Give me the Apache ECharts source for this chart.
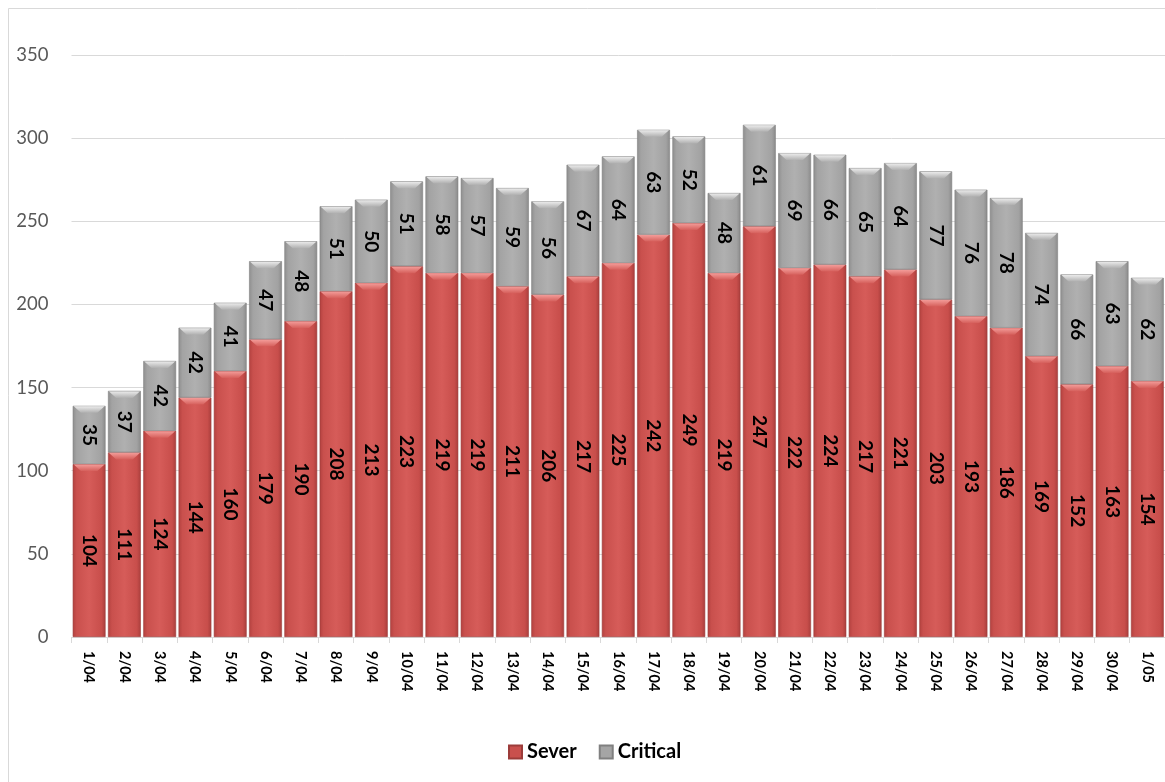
<!DOCTYPE html>
<html><head><meta charset="utf-8">
<script src="https://cdn.jsdelivr.net/npm/echarts@6/dist/echarts.min.js"></script>
<style>html,body{margin:0;padding:0;background:#fff;}#c{width:1165px;height:782px;}</style>
</head><body><div id="c"></div>
<script>
const categories = ['1/04','2/04','3/04','4/04','5/04','6/04','7/04','8/04','9/04','10/04','11/04','12/04','13/04','14/04','15/04','16/04','17/04','18/04','19/04','20/04','21/04','22/04','23/04','24/04','25/04','26/04','27/04','28/04','29/04','30/04','1/05'];
const sever = [104,111,124,144,160,179,190,208,213,223,219,219,211,206,217,225,242,249,219,247,222,224,217,221,203,193,186,169,152,163,154];
const critical = [35,37,42,42,41,47,48,51,50,51,58,57,59,56,67,64,63,52,48,61,69,66,65,64,77,76,78,74,66,63,62];
const yTicks = [0,50,100,150,200,250,300,350];

const FONT = 'Lato, "Liberation Sans", sans-serif';
const redGrad = new echarts.graphic.LinearGradient(0,0,1,0,[
  {offset:0,color:'#b2413f'},{offset:0.12,color:'#c9504d'},{offset:0.5,color:'#d65c59'},{offset:0.88,color:'#c84e4b'},{offset:1,color:'#a83e3c'}]);
const grayGrad = new echarts.graphic.LinearGradient(0,0,1,0,[
  {offset:0,color:'#8e8e8e'},{offset:0.12,color:'#a3a3a3'},{offset:0.5,color:'#b0b0b0'},{offset:0.88,color:'#a2a2a2'},{offset:1,color:'#8a8a8a'}]);
const redBevel = new echarts.graphic.LinearGradient(0,0,0,1,[{offset:0,color:'#f7a3a0'},{offset:1,color:'#d6605c'}]);
const grayBevel = new echarts.graphic.LinearGradient(0,0,0,1,[{offset:0,color:'#f2f2f2'},{offset:1,color:'#b0b0b0'}]);

const bevelData = categories.map((c,i)=>[i, sever[i], sever[i]+critical[i]]);
const GAP = 0.07;

function renderBevel(params, api){
  const i = api.value(0);
  const band = api.size([1,0])[0];
  const w = band*(1-GAP);
  const out = [];
  [[api.value(1), redBevel],[api.value(2), grayBevel]].forEach(([v,fill])=>{
    const p = api.coord([i, v]);
    const x0 = p[0]-w/2, x1 = p[0]+w/2, y = p[1];
    const inset = Math.min(9, w*0.25), h = 7;
    out.push({type:'polygon', shape:{points:[[x0+1,y+0.5],[x1-1,y+0.5],[x1-inset,y+h],[x0+inset,y+h]]},
      style:{fill:fill, opacity:0.9}});
  });
  return {type:'group', children:out};
}

const chart = echarts.init(document.getElementById('c'), null, {renderer:'canvas'});
const labelCfg = {show:true, position:'inside', rotate:-90, color:'#000', fontFamily:FONT, fontWeight:'bold', fontSize:19};
chart.setOption({
  animation:false,
  backgroundColor:'#fff',
  graphic:[{type:'rect', shape:{x:8.5,y:8.5,width:1200,height:800}, style:{fill:'none', stroke:'#d9d9d9', lineWidth:1}, z:-10}],
  grid:{left:71.5, right:-7, top:55, bottom:145, containLabel:false},
  legend:{left:503, top:737, itemWidth:13, itemHeight:13, itemGap:22,
    textStyle:{fontFamily:FONT, fontWeight:'bold', fontSize:20, color:'#000'},
    data:[{name:'Sever', icon:'rect', itemStyle:{color:'#c9504d'}},{name:'Critical', icon:'rect', itemStyle:{color:'#a5a5a5'}}]},
  xAxis:{type:'category', data:categories,
    axisLine:{lineStyle:{color:'#d9d9d9'}},
    axisTick:{show:true, length:6, lineStyle:{color:'#d9d9d9'}},
    axisLabel:{rotate:-90, interval:0, color:'#000', fontFamily:FONT, fontWeight:'bold', fontSize:14.5, margin:14}},
  yAxis:{type:'value', min:0, max:350, interval:50,
    axisLine:{show:false}, axisTick:{show:false},
    splitLine:{lineStyle:{color:'#d9d9d9', width:1}},
    axisLabel:{color:'#595959', fontFamily:FONT, fontSize:18.5, margin:23,
      formatter:v=>yTicks.includes(v)?String(v):''}},
  series:[
    {name:'Sever', type:'bar', stack:'t', data:sever, barCategoryGap:'7%',
     itemStyle:{color:redGrad, borderColor:'#9c3c3a', borderWidth:0.6}, label:labelCfg},
    {name:'Critical', type:'bar', stack:'t', data:critical, barCategoryGap:'7%',
     itemStyle:{color:grayGrad, borderColor:'#808080', borderWidth:0.6}, label:labelCfg},
    {name:'bevel', type:'custom', data:bevelData, renderItem:renderBevel, silent:true, z:3,
     encode:{x:0, y:[1,2]}}
  ]
});
</script></body></html>
